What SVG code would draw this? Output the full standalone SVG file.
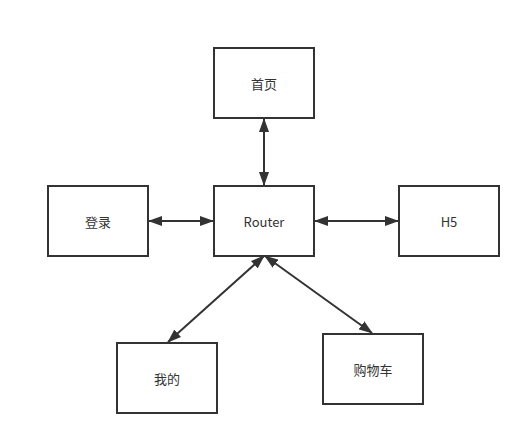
<svg xmlns="http://www.w3.org/2000/svg" width="531" height="445" viewBox="0 0 531 445">
<style>
.box{fill:#fff;stroke:#333;stroke-width:2}
.lbl{font-family:"Noto Sans CJK SC","Noto Sans",sans-serif;font-size:13px;fill:#333;text-anchor:middle;dominant-baseline:central}
.edge{stroke:#333;stroke-width:2;fill:none;marker-start:url(#ah);marker-end:url(#ah)}
</style>
<defs>
<marker id="ah" viewBox="0 0 14 10" refX="13" refY="5" markerWidth="14" markerHeight="10" markerUnits="userSpaceOnUse" orient="auto-start-reverse">
<path d="M0,0 L14,5 L0,10 Z" fill="#333"/>
</marker>
</defs>
<rect width="531" height="445" fill="#fff"/>
<g id="connectors">
<line class="edge" x1="264" y1="119" x2="264" y2="185"/>
<line class="edge" x1="149" y1="221" x2="213" y2="221"/>
<line class="edge" x1="315" y1="221" x2="398" y2="221"/>
<line class="edge" x1="264" y1="256" x2="168" y2="342"/>
<line class="edge" x1="265" y1="256" x2="372" y2="333"/>
</g>
<g id="home"><rect class="box" x="214" y="48" width="100" height="70"/><text class="lbl" x="264" y="83">首页</text></g>
<g id="router"><rect class="box" x="214" y="186" width="100" height="70"/><text class="lbl" x="264" y="221">Router</text></g>
<g id="login"><rect class="box" x="48" y="186" width="100" height="70"/><text class="lbl" x="98" y="221">登录</text></g>
<g id="h5"><rect class="box" x="399" y="186" width="100" height="70"/><text class="lbl" x="449" y="221">H5</text></g>
<g id="mine"><rect class="box" x="117" y="343" width="100" height="70"/><text class="lbl" x="167" y="378">我的</text></g>
<g id="cart"><rect class="box" x="323" y="334" width="100" height="70"/><text class="lbl" x="373" y="369">购物车</text></g>
</svg>
